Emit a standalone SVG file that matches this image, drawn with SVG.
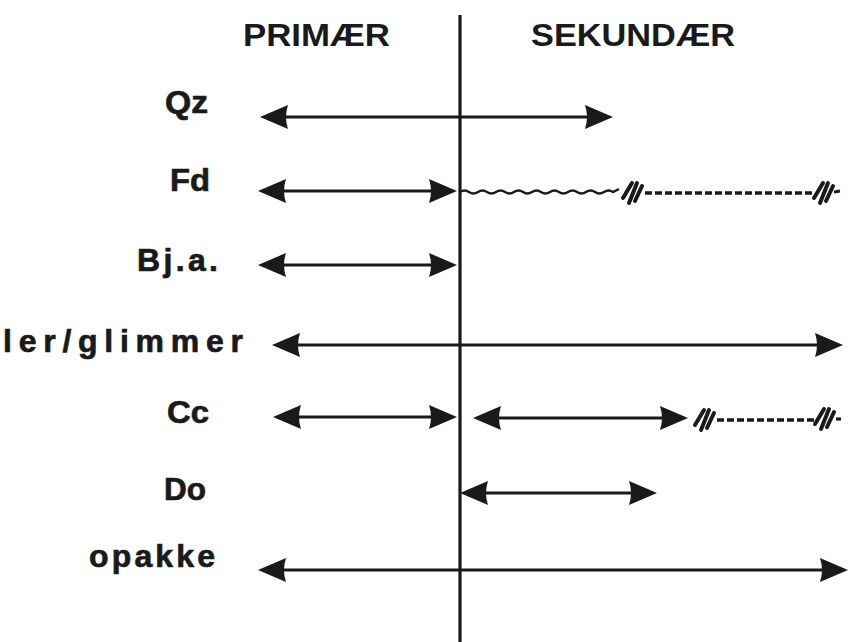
<svg xmlns="http://www.w3.org/2000/svg" xmlns:xlink="http://www.w3.org/1999/xlink" width="850" height="642" viewBox="0 0 850 642">
<style>
text{font-family:"Liberation Sans",Arial,sans-serif;font-weight:bold;fill:#1a1a1a}
.hdr{font-size:32px}
.lbl{font-size:32px;stroke:#1a1a1a;stroke-width:0.7}
.ln{stroke:#1a1a1a;stroke-width:3.2;fill:none}
.dash{stroke:#1a1a1a;stroke-width:3.5;fill:none;stroke-dasharray:7 3}
.wave{stroke:#1a1a1a;stroke-width:2.4;fill:none}
.ah{fill:#1a1a1a}
.h{stroke:#1a1a1a;stroke-width:4;stroke-linecap:round}
</style>
<defs>
<path id="ah" class="ah" d="M0,0 L-28,-12 Q-24,0 -28,12 Z"/>
<g id="hatch">
<line class="h" x1="0" y1="6" x2="9" y2="-9"/>
<line class="h" x1="6" y1="11" x2="14" y2="-9"/>
<line class="h" x1="12" y1="9" x2="19" y2="-6"/>
</g>
</defs>
<rect width="850" height="642" fill="#fff"/>
<g id="axis">
<line class="ln" x1="460" y1="15" x2="460" y2="642"/>
</g>
<g id="headers">
<text class="hdr" x="243" y="46" textLength="147" lengthAdjust="spacingAndGlyphs">PRIMÆR</text>
<text class="hdr" x="531" y="46" textLength="204" lengthAdjust="spacingAndGlyphs">SEKUNDÆR</text>
</g>
<g id="qz"><text class="lbl" x="165" y="113" textLength="43" lengthAdjust="spacingAndGlyphs">Qz</text></g>
<g id="fd"><text class="lbl" x="170" y="191" textLength="40" lengthAdjust="spacingAndGlyphs">Fd</text></g>
<g id="bja"><text class="lbl" x="137" y="271" textLength="81" lengthAdjust="spacing">Bj.a.</text></g>
<g id="ler"><text class="lbl" x="3" y="352" textLength="240" lengthAdjust="spacing">ler/glimmer</text></g>
<g id="cc"><text class="lbl" x="167" y="423" textLength="42" lengthAdjust="spacingAndGlyphs">Cc</text></g>
<g id="do"><text class="lbl" x="164" y="500" textLength="42" lengthAdjust="spacingAndGlyphs">Do</text></g>
<g id="opakke"><text class="lbl" x="89" y="567" textLength="126" lengthAdjust="spacing">opakke</text></g>
<g id="connectors">
<!-- Qz -->
<line class="ln" x1="270" y1="117" x2="605" y2="117"/>
<use href="#ah" transform="translate(260,117) scale(-1,1)"/>
<use href="#ah" transform="translate(613,117)"/>
<!-- Fd -->
<line class="ln" x1="268" y1="191" x2="450" y2="191"/>
<use href="#ah" transform="translate(258,191) scale(-1,1)"/>
<use href="#ah" transform="translate(457,191)"/>
<path class="wave" d="M460,192 q4.5,-3 9,0 t9,0 t9,0 t9,0 t9,0 t9,0 t9,0 t9,0 t9,0 t9,0 t9,0 t9,0 t9,0 t9,0 t9,0 t9,0 t9,0 l6,-3"/>
<use href="#hatch" transform="translate(623,192)"/>
<line class="dash" x1="645" y1="193" x2="812" y2="193"/>
<use href="#hatch" transform="translate(814,192)"/>
<line class="ln" x1="834" y1="192" x2="840" y2="191"/>
<!-- Bj.a. -->
<line class="ln" x1="268" y1="265" x2="450" y2="265"/>
<use href="#ah" transform="translate(258,265) scale(-1,1)"/>
<use href="#ah" transform="translate(457,265)"/>
<!-- ler/glimmer -->
<line class="ln" x1="282" y1="345" x2="835" y2="345"/>
<use href="#ah" transform="translate(272,345) scale(-1,1)"/>
<use href="#ah" transform="translate(843,345)"/>
<!-- Cc -->
<line class="ln" x1="283" y1="417" x2="450" y2="417"/>
<use href="#ah" transform="translate(273,417) scale(-1,1)"/>
<use href="#ah" transform="translate(457,417)"/>
<line class="ln" x1="483" y1="418" x2="680" y2="418"/>
<use href="#ah" transform="translate(473,418) scale(-1,1)"/>
<use href="#ah" transform="translate(688,418)"/>
<use href="#hatch" transform="translate(695,419)"/>
<line class="dash" x1="717" y1="420" x2="814" y2="420"/>
<use href="#hatch" transform="translate(815,418)"/>
<line class="ln" x1="836" y1="419" x2="841" y2="419"/>
<!-- Do -->
<line class="ln" x1="470" y1="493" x2="650" y2="493"/>
<use href="#ah" transform="translate(460,493) scale(-1,1)"/>
<use href="#ah" transform="translate(657,493)"/>
<!-- opakke -->
<line class="ln" x1="268" y1="570" x2="840" y2="570"/>
<use href="#ah" transform="translate(258,570) scale(-1,1)"/>
<use href="#ah" transform="translate(848,570)"/>
</g>
</svg>
